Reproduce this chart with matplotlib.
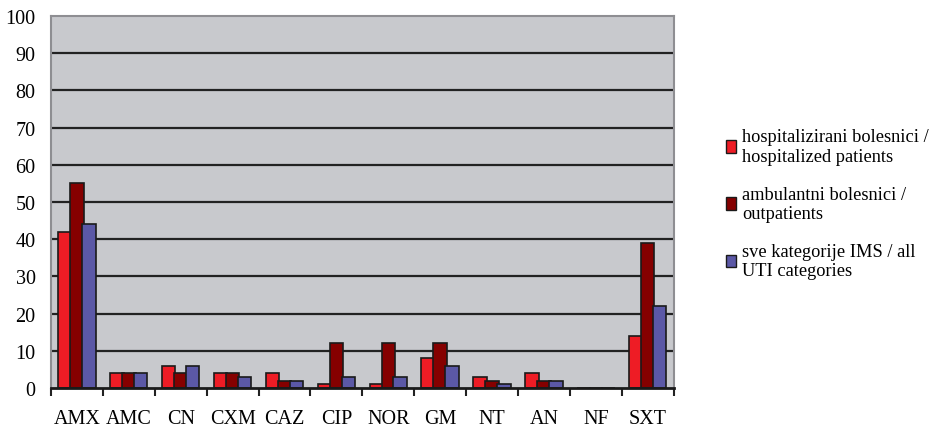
import numpy as np
import matplotlib.pyplot as plt
from matplotlib.patches import Patch

# Antibiotic codes and resistance percentages per patient group
antibiotics = ['AMX', 'AMC', 'CN', 'CXM', 'CAZ', 'CIP', 'NOR', 'GM', 'NT', 'AN', 'NF', 'SXT']
hospitalized = [42, 4, 6, 4, 4, 1, 1, 8, 3, 4, 0, 14]
outpatients = [55, 4, 4, 4, 2, 12, 12, 12, 2, 2, 0, 39]
all_categories = [44, 4, 6, 3, 2, 3, 3, 6, 1, 2, 0, 22]

series_labels = ['hospitalizirani bolesnici /\nhospitalized patients',
                 'ambulantni bolesnici /\noutpatients',
                 'sve kategorije IMS / all\nUTI categories']
colors = ['#EE1C25', '#850000', '#5B58A6']

plt.rcParams['font.family'] = ['Liberation Serif', 'DejaVu Serif']

fig = plt.figure(figsize=(9.35, 4.27), dpi=100)
ax = fig.add_axes([0.0545, 0.089, 0.666, 0.871])
ax.set_facecolor('#C8C9CD')

x = np.arange(len(antibiotics))
width = 0.26
offsets = [-0.23, 0, 0.23]
for vals, off, col in zip([hospitalized, outpatients, all_categories], offsets, colors):
    ax.bar(x + off, vals, width, color=col, edgecolor='#1a1a1a', linewidth=1.2, zorder=3)

ax.set_xlim(-0.5, len(antibiotics) - 0.5)
ax.set_ylim(0, 100)
ax.set_yticks(range(0, 101, 10))
for y in range(10, 100, 10):
    ax.axhline(y, color='#222222', linewidth=1.6, zorder=1)

# category labels centred under groups, ticks at group boundaries
ax.set_xticks(np.arange(-0.5, len(antibiotics) + 0.5, 1))
ax.set_xticklabels([])
ax.set_xticks(x, minor=True)
ax.set_xticklabels(antibiotics, minor=True, fontsize=14.5)
ax.tick_params(axis='x', which='major', length=6, width=1.5, color='#222222', direction='out')
ax.tick_params(axis='x', which='minor', length=0, pad=15)
ax.tick_params(axis='y', length=0, labelsize=14.5, pad=11)

for side in ['top', 'left', 'right']:
    ax.spines[side].set_color('#8E8E92')
    ax.spines[side].set_linewidth(1.5)
ax.spines['bottom'].set_color('#1a1a1a')
ax.spines['bottom'].set_linewidth(2)
ax.spines['bottom'].set_zorder(4)

handles = [Patch(facecolor=c, edgecolor='#1a1a1a', linewidth=1.0) for c in colors]
fig.legend(handles, series_labels, loc='upper left', bbox_to_anchor=(0.777, 0.697),
           frameon=False, fontsize=13.2, handlelength=0.5, handleheight=0.7,
           handletextpad=0.35, labelspacing=1.12, borderpad=0, borderaxespad=0)

fig.savefig('out.png', dpi=100)
